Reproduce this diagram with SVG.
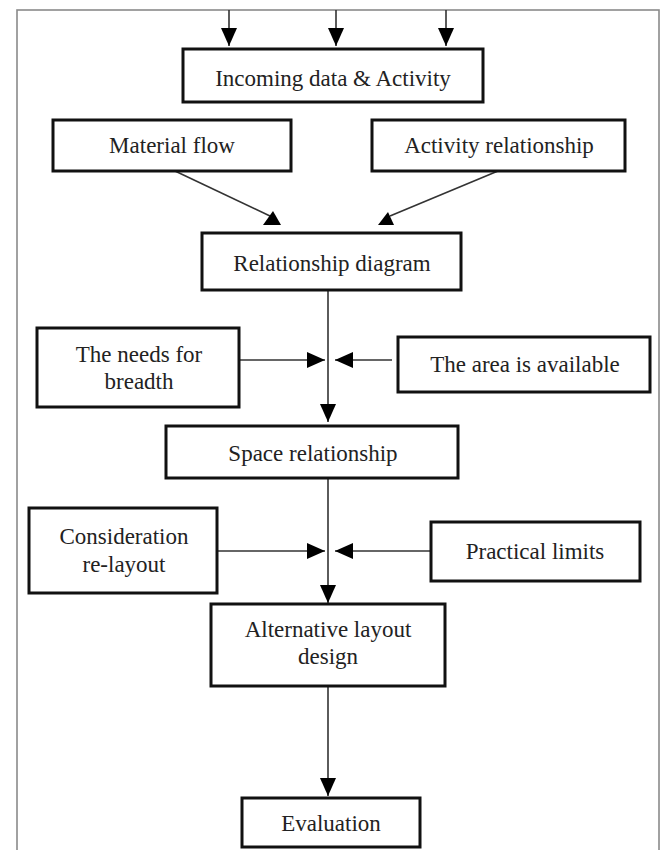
<svg xmlns="http://www.w3.org/2000/svg" width="662" height="850" viewBox="0 0 662 850">
<style>
.box{fill:#fff;stroke:#111;stroke-width:3}
.t{font-family:"Liberation Serif","Times New Roman",serif;font-size:23px;fill:#222;text-anchor:middle}
.ln{stroke:#333;stroke-width:1.6;fill:none}
.ah{fill:#000}
</style>
<defs>
<marker id="arr" markerUnits="userSpaceOnUse" markerWidth="18" markerHeight="16" refX="18" refY="8" orient="auto">
<path d="M0,0 L18,8 L0,16 z" fill="#000"/>
</marker>
</defs>
<rect x="0" y="0" width="662" height="850" fill="#fff"/>
<rect x="17" y="10" width="642" height="860" fill="none" stroke="#8a8a8a" stroke-width="1.6"/>
<g id="connectors">
<line class="ln" x1="229" y1="10" x2="229" y2="46" marker-end="url(#arr)"/>
<line class="ln" x1="336" y1="10" x2="336" y2="46" marker-end="url(#arr)"/>
<line class="ln" x1="446" y1="10" x2="446" y2="46" marker-end="url(#arr)"/>
<line class="ln" x1="175" y1="171" x2="270" y2="216"/>
<polygon class="ah" points="263,225 281,225 273,211"/>
<line class="ln" x1="498" y1="171" x2="390" y2="216"/>
<polygon class="ah" points="378,225 394,225 388,212"/>
<line class="ln" x1="328" y1="290" x2="328" y2="422" marker-end="url(#arr)"/>
<line class="ln" x1="239" y1="360" x2="325" y2="360" marker-end="url(#arr)"/>
<line class="ln" x1="392" y1="360" x2="335" y2="360" marker-end="url(#arr)"/>
<line class="ln" x1="328" y1="478" x2="328" y2="603" marker-end="url(#arr)"/>
<line class="ln" x1="217" y1="551" x2="325" y2="551" marker-end="url(#arr)"/>
<line class="ln" x1="431" y1="551" x2="335" y2="551" marker-end="url(#arr)"/>
<line class="ln" x1="328" y1="686" x2="328" y2="796" marker-end="url(#arr)"/>
</g>
<g id="incoming"><rect class="box" x="183" y="49" width="300" height="53"/><text class="t" x="333" y="86">Incoming data &amp; Activity</text></g>
<g id="material"><rect class="box" x="53" y="120" width="238" height="51"/><text class="t" x="172" y="153">Material flow</text></g>
<g id="activity"><rect class="box" x="372" y="120" width="253" height="51"/><text class="t" x="499" y="153">Activity relationship</text></g>
<g id="relationship"><rect class="box" x="202" y="233" width="259" height="57"/><text class="t" x="332" y="271">Relationship diagram</text></g>
<g id="needs"><rect class="box" x="37" y="328" width="202" height="79"/><text class="t" x="139" y="362">The needs for</text><text class="t" x="139" y="389">breadth</text></g>
<g id="area"><rect class="box" x="398" y="337" width="252" height="55"/><text class="t" x="525" y="372">The area is available</text></g>
<g id="space"><rect class="box" x="166" y="426" width="292" height="52"/><text class="t" x="313" y="461">Space relationship</text></g>
<g id="consideration"><rect class="box" x="29" y="508" width="188" height="85"/><text class="t" x="124" y="544">Consideration</text><text class="t" x="124" y="572">re-layout</text></g>
<g id="practical"><rect class="box" x="431" y="522" width="209" height="59"/><text class="t" x="535" y="559">Practical limits</text></g>
<g id="alternative"><rect class="box" x="211" y="604" width="234" height="82"/><text class="t" x="328" y="637">Alternative layout</text><text class="t" x="328" y="664">design</text></g>
<g id="evaluation"><rect class="box" x="242" y="798" width="178" height="49"/><text class="t" x="331" y="831">Evaluation</text></g>
</svg>
